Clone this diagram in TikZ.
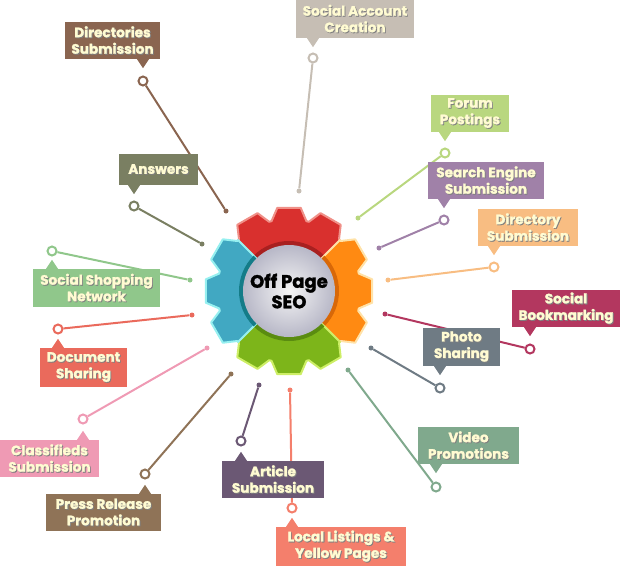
\documentclass[tikz,border=0pt]{standalone}
\usepackage{fontspec}
\setmainfont{Poppins}[BoldFeatures={FakeBold=1.6}]
\usetikzlibrary{calc}
\definecolor{cdir}{HTML}{8A6550}
\definecolor{cans}{HTML}{7A7F62}
\definecolor{csoc}{HTML}{C6BEB4}
\definecolor{cfor}{HTML}{B9D77F}
\definecolor{csea}{HTML}{A081A8}
\definecolor{cdiy}{HTML}{F8BD82}
\definecolor{cbok}{HTML}{B3375F}
\definecolor{cpho}{HTML}{6F7B84}
\definecolor{cvid}{HTML}{80A98D}
\definecolor{cloc}{HTML}{F47F6C}
\definecolor{cart}{HTML}{6B5874}
\definecolor{cpre}{HTML}{8F7357}
\definecolor{ccla}{HTML}{EF9AB4}
\definecolor{cdoc}{HTML}{EA6A5C}
\definecolor{cshp}{HTML}{90C78B}
\definecolor{tagtext}{HTML}{FFFBD2}
\definecolor{gred}{HTML}{D9302E}
\definecolor{gredrim}{HTML}{F09088}
\definecolor{gredin}{HTML}{A82020}
\definecolor{gora}{HTML}{FF8A12}
\definecolor{gorarim}{HTML}{FFE2A8}
\definecolor{gorain}{HTML}{D86808}
\definecolor{ggrn}{HTML}{7DB51A}
\definecolor{ggrnrim}{HTML}{CDEE66}
\definecolor{ggrnin}{HTML}{5A8C10}
\definecolor{gblu}{HTML}{41A8C2}
\definecolor{gblurim}{HTML}{96F0F0}
\definecolor{gbluin}{HTML}{147C88}
\newcommand{\sh}[1]{\leavevmode\rlap{\kern0.9pt\raisebox{-0.9pt}{\textcolor{black!50}{#1}}}#1}
% one sector of the gear, three teeth
\newcommand{\gearpart}[4]{
\filldraw[fill=#2,draw=#3,line width=2pt,line join=round,shift={(289,291)}] (0,0) -- (#1-45:72)
\foreach \t in {-30,0,30} {
-- ({#1+\t-14}:72) -- ({#1+\t-8}:84) -- ({#1+\t+8}:84) -- ({#1+\t+14}:72)
} -- (#1+45:72) -- cycle;
\fill[#4,shift={(289,291)}] (0,0) -- (#1-45:50) arc[start angle=#1-45,end angle=#1+45,radius=50] -- cycle;
}
\tikzset{tagbox/.style={inner sep=0pt,align=center,text=tagtext,font=\bfseries\fontsize{13.6}{16.5}\selectfont},
ringdot/.style={circle,draw,fill=white,line width=2pt,minimum size=9pt,inner sep=0pt},
enddot/.style={circle,minimum size=5pt,inner sep=0pt}}
\begin{document}
\begin{tikzpicture}[x=1pt,y=-1pt]
\useasboundingbox (0,0) rectangle (620,566);
\foreach \n/\bx/\by/\bw/\bh/\rx/\ry/\ex/\ey/\col/\side/\sgn/\txt in {
dir/112.5/40.5/95/37/143/81/226/211/cdir/south/1/{\sh{Directories}\\\sh{Submission}},
ans/158.5/169.5/79/31/134/206/202/244/cans/south/1/{\sh{Answers}},
soc/355/19/118/38/313/58/299/191/csoc/south/1/{\sh{Social Account}\\\sh{Creation}},
for/470/113.5/78/37/445/153/358/218/cfor/south/1/{\sh{Forum}\\\sh{Postings}},
sea/486/180.5/116/37/444/220/379/248/csea/south/1/{\sh{Search Engine}\\\sh{Submission}},
diy/528/227.5/100/37/494/267/388/280/cdiy/south/1/{\sh{Directory}\\\sh{Submission}},
bok/566/308.5/108/37/530/349/385/314/cbok/south/1/{\sh{Social}\\\sh{Bookmarking}},
pho/461.5/347/77/38/440/388/371/348/cpho/south/1/{\sh{Photo}\\\sh{Sharing}},
vid/468.5/445.5/101/37/436/487/348/370/cvid/south/1/{\sh{Video}\\\sh{Promotions}},
loc/341/546.5/130/39/292/508/290/390/cloc/north/-1/{\sh{Local Listings \&}\\\sh{Yellow Pages}},
art/273/479.5/102/37/241/441/259/385/cart/north/-1/{\sh{Article}\\\sh{Submission}},
pre/103.5/512.5/115/37/145/474/231/374/cpre/north/-1/{\sh{Press Release}\\\sh{Promotion}},
cla/49.5/458.5/99/37/83/419/207/348/ccla/north/-1/{\sh{Classifieds}\\\sh{Submission}},
doc/83.5/367.5/87/39/58/329/192/315/cdoc/north/-1/{\sh{Document}\\\sh{Sharing}},
shp/96.5/288/127/38/52/251/190/280/cshp/north/-1/{\sh{Social Shopping}\\\sh{Network}}} {
\node (end\n) at (\ex,\ey) [enddot,fill=\col] {};
\node (ring\n) at (\rx,\ry) [ringdot,draw=\col] {};
\draw[line width=2pt,color=\col] (ring\n) -- (end\n);
\node (box\n) at (\bx,\by) [tagbox,fill=\col,minimum width=\bw pt,minimum height=\bh pt] {\txt};
\fill[color=\col] ($(ring\n |- box\n.\side)+(-6,0)$) -- ($(ring\n |- box\n.\side)+(6,0)$) -- ($(ring\n |- box\n.\side)+(0,\sgn*9)$) -- cycle;
}

\gearpart{-90}{gred}{gredrim}{gredin}
\gearpart{0}{gora}{gorarim}{gorain}
\gearpart{90}{ggrn}{ggrnrim}{ggrnin}
\gearpart{180}{gblu}{gblurim}{gbluin}

\shade[inner color=black!4,outer color=black!12!blue!25!black!28] (289,291) circle (46);
\node (hub) at (289,291) [align=center,text=black,font=\bfseries\fontsize{18}{20.5}\selectfont] {Off Page\\SEO};
\end{tikzpicture}
\end{document}
